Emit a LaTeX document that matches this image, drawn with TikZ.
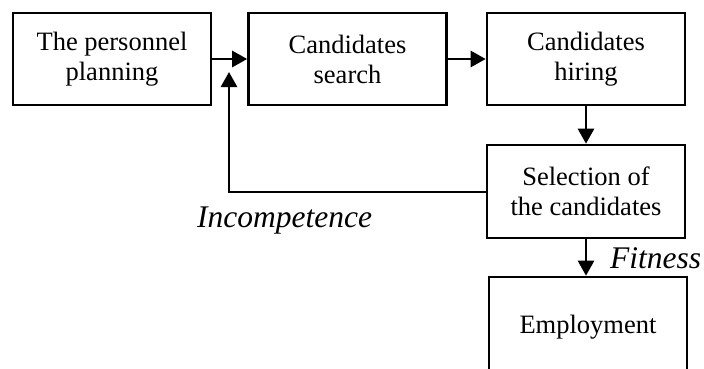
\documentclass[tikz,border=0pt]{standalone}
\usepackage{fontspec}
\setmainfont{Liberation Serif}
\usetikzlibrary{arrows.meta}
\begin{document}
\begin{tikzpicture}[x=1pt,y=-1pt,
  stepbox/.style={draw,line width=2.6pt,rectangle,align=center,
    minimum width=198pt,minimum height=92pt,inner sep=0pt,
    font=\fontsize{26.5}{30}\selectfont},
  arr/.style={line width=2.6pt,-{Triangle[length=15pt,width=16pt]}},
  lbl/.style={font=\fontsize{31.5}{34}\selectfont\itshape,inner sep=0pt}]
  \clip (0,0) rectangle (704,369);
  \fill[white] (0,0) rectangle (704,369);
  % main chain of stages
  \node[stepbox] (plan)   at (112,59)    {The personnel\\planning};
  \node[stepbox] (search) at (347.5,59)  {Candidates\\search};
  \node[stepbox] (hire)   at (586,59)    {Candidates\\hiring};
  \node[stepbox,minimum height=93pt] (select) at (586,191.5) {Selection of\\the candidates};
  \node[stepbox,minimum height=100pt] (employ) at (588,327) {Employment};
  % connectors
  \draw[arr] (plan) -- (search);
  \draw[arr] (search) -- (hire);
  \draw[arr] (hire) -- (select);
  \draw[arr] (select.south) -- (select.south |- employ.north);
  \coordinate (back) at (229,72);
  \draw[arr] (select.west |- 0,192) -| (back);
  % outcome labels
  \node[lbl,anchor=base west] (incomp) at (197,227) {Incompetence};
  \node[lbl,anchor=base west] (fit) at (610,268) {Fitness};
\end{tikzpicture}
\end{document}
